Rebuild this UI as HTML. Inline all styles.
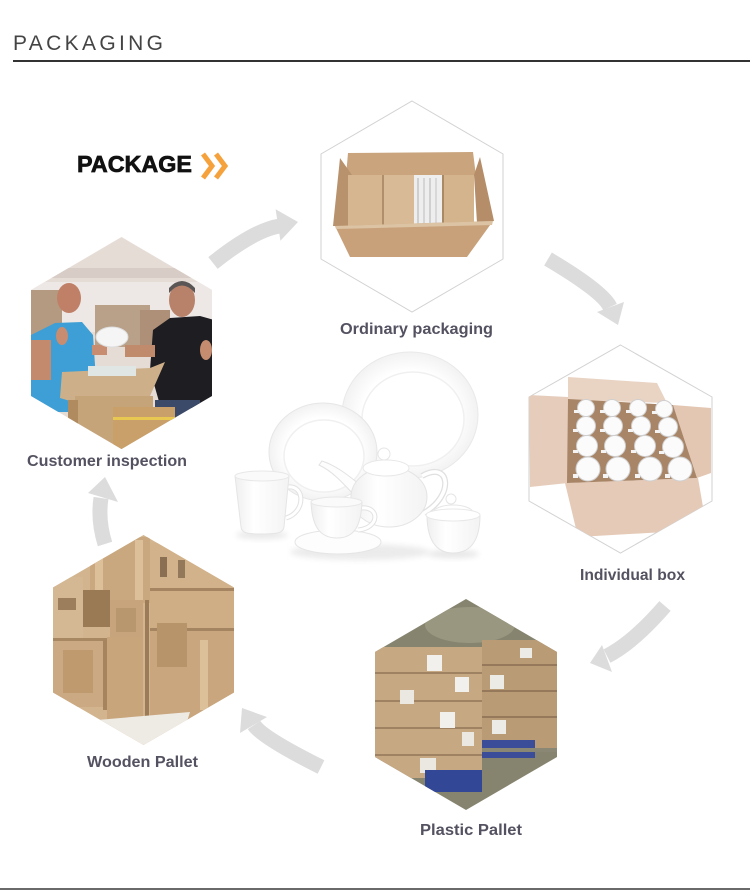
<!DOCTYPE html>
<html>
<head>
<meta charset="utf-8">
<style>
  html,body{margin:0;padding:0;background:#fff;}
  body{width:750px;height:890px;overflow:hidden;}
  svg{display:block;}
</style>
</head>
<body>
<svg width="750" height="890" viewBox="0 0 750 890" xmlns="http://www.w3.org/2000/svg">
  <defs>
    <clipPath id="hTop"><polygon points="412,101 503,154 503,259 412,312 321,259 321,154"/></clipPath>
    <clipPath id="hLeft"><polygon points="121.5,237 212,290 212,396 121.5,449 31,396 31,290"/></clipPath>
    <clipPath id="hRight"><polygon points="620.5,345 712,397 712,501 620.5,553 529,501 529,397"/></clipPath>
    <clipPath id="hPlastic"><polygon points="466,599 557,652 557,757 466,810 375,757 375,652"/></clipPath>
    <clipPath id="hWood"><polygon points="143.5,535 234,587.5 234,692.5 143.5,745 53,692.5 53,587.5"/></clipPath>
    <linearGradient id="shadeW" x1="0" y1="0" x2="1" y2="0">
      <stop offset="0" stop-color="#efefef"/>
      <stop offset="0.35" stop-color="#ffffff"/>
      <stop offset="1" stop-color="#f3f3f3"/>
    </linearGradient>
    <radialGradient id="plateG" cx="0.5" cy="0.5" r="0.5">
      <stop offset="0.7" stop-color="#ffffff"/>
      <stop offset="1" stop-color="#f2f2f2"/>
    </radialGradient>
    <filter id="blur3" x="-20%" y="-50%" width="140%" height="200%"><feGaussianBlur stdDeviation="3"/></filter>
  </defs>

  <!-- Header -->
  <text x="13" y="50" font-family="Liberation Sans, sans-serif" font-size="21" fill="#444" textLength="150" lengthAdjust="spacing">PACKAGING</text>
  <rect x="13" y="60" width="737" height="2" fill="#333"/>

  <!-- PACKAGE heading -->
  <text x="77" y="172" font-family="Liberation Sans, sans-serif" font-weight="bold" font-size="23" fill="#111" stroke="#111" stroke-width="0.7" textLength="115" lengthAdjust="spacingAndGlyphs">PACKAGE</text>
  <polyline points="203,154 212,166 203,178" fill="none" stroke="#f6a23c" stroke-width="5"/>
  <polyline points="216,154 225,166 216,178" fill="none" stroke="#f6a23c" stroke-width="5"/>

  <!-- Arrows -->
  <g fill="none" stroke="#dcdcdc" stroke-width="15">
    <path d="M213,263 Q254.5,229.8 280,226"/>
    <path d="M548,259 Q603,291.5 610,307"/>
    <path d="M665,606 Q633,642.8 607,656"/>
    <path d="M321,767 Q262.4,737.7 254,725"/>
    <path d="M105,544 Q97.6,520.5 101,498"/>
  </g>
  <g fill="#dcdcdc">
    <polygon points="298,222 280.4,240.8 275.6,209.2"/>
    <polygon points="618,325 597,312 624,302"/>
    <polygon points="590,663 602,645 612,672"/>
    <polygon points="242,708 267,717 240,733"/>
    <polygon points="105,477 88,493 118,502"/>
  </g>

  <!-- TOP HEX: Ordinary packaging -->
  <polygon points="412,101 503,154 503,259 412,312 321,259 321,154" fill="#fff" stroke="#d2d2d2" stroke-width="1"/>
  <g clip-path="url(#hTop)">
    <polygon points="348,153 473,152 476,176 346,176" fill="#c9a47d"/>
    <polygon points="340,158 352,175 350,226 333,226" fill="#b8916d"/>
    <polygon points="480,157 494,221 477,223 474,175" fill="#b58e69"/>
    <rect x="348" y="175" width="34" height="51" fill="#d5b690"/>
    <rect x="382" y="175" width="2" height="51" fill="#b0906c"/>
    <rect x="384" y="175" width="30" height="51" fill="#d8bb96"/>
    <rect x="414" y="175" width="28" height="51" fill="#eeeeee"/>
    <rect x="417" y="178" width="2" height="46" fill="#cfcfcf"/>
    <rect x="423" y="178" width="2" height="46" fill="#d5d5d5"/>
    <rect x="429" y="178" width="2" height="46" fill="#d0d0d0"/>
    <rect x="435" y="178" width="2" height="46" fill="#d8d8d8"/>
    <rect x="442" y="175" width="2" height="51" fill="#a98a66"/>
    <rect x="444" y="175" width="30" height="51" fill="#d4b48d"/>
    <polygon points="335,226 493,221 467,257 350,257" fill="#c8a17b"/>
    <polygon points="335,226 493,221 492,225 336,229" fill="#dcc3a3"/>
  </g>

  <!-- LEFT HEX: Customer inspection -->
  <g clip-path="url(#hLeft)">
    <rect x="30" y="236" width="184" height="215" fill="#e6dcd6"/>
    <rect x="30" y="268" width="184" height="10" fill="#d8cdc6"/>
    <rect x="30" y="282" width="184" height="50" fill="#ede8e6"/>
    <rect x="30" y="290" width="32" height="55" fill="#b49a80"/>
    <rect x="95" y="305" width="55" height="42" fill="#b9a088"/>
    <rect x="140" y="310" width="30" height="40" fill="#ae8f77"/>
    <!-- left man -->
    <polygon points="31,335 55,323 82,322 93,335 96,380 90,412 31,412" fill="#3d9fd6"/>
    <rect x="31" y="340" width="20" height="40" fill="#c48a6e"/>
    <ellipse cx="62" cy="336" rx="6" ry="9" fill="#c88c70"/>
    <ellipse cx="69" cy="298" rx="12" ry="15" fill="#c08068"/>
    <rect x="92" y="345" width="15" height="10" fill="#c88c70"/>
    <!-- plate -->
    <ellipse cx="112" cy="337" rx="16" ry="10" fill="#f5f5f5" stroke="#dcdcdc" stroke-width="1"/>
    <!-- right man -->
    <polygon points="153,330 170,318 200,316 214,320 214,410 160,405 150,370" fill="#1d1d22"/>
    <rect x="125" y="345" width="30" height="12" fill="#c08a6c"/>
    <ellipse cx="206" cy="350" rx="6" ry="10" fill="#c58c6f"/>
    <ellipse cx="182" cy="300" rx="13" ry="17" fill="#b8826a"/>
    <path d="M169,293 Q182,278 195,293 L195,288 Q182,274 169,288 Z" fill="#5a5656"/>
    <rect x="155" y="400" width="45" height="20" fill="#3a4a68"/>
    <!-- boxes -->
    <polygon points="62,372 150,368 165,362 150,396 80,404 60,398" fill="#cdb08a"/>
    <rect x="88" y="366" width="48" height="10" fill="#dfe6e4"/>
    <rect x="75" y="396" width="78" height="55" fill="#c6a47a"/>
    <rect x="68" y="400" width="10" height="50" fill="#b08b60"/>
    <rect x="113" y="407" width="62" height="44" fill="#c9a06a"/>
    <rect x="113" y="417" width="62" height="3" fill="#e8c850"/>
  </g>

  <!-- RIGHT HEX: Individual box -->
  <polygon points="620.5,345 712,397 712,501 620.5,553 529,501 529,397" fill="#fff" stroke="#d2d2d2" stroke-width="1"/>
  <g clip-path="url(#hRight)">
    <polygon points="529,395 568,397 568,483 530,487" fill="#e6cdbb"/>
    <polygon points="568,377 657,383 667,403 568,400" fill="#e9d3c2"/>
    <polygon points="673,405 711,408 711,473 697,478" fill="#e3c7b3"/>
    <polygon points="565,483 698,478 703,507 700,530 578,537" fill="#e5cab7"/>
    <polygon points="568,399 673,405 697,478 567,483" fill="#a88567"/>
    <g fill="#fbfbfb" stroke="#d0cfcf" stroke-width="1">
      <circle cx="586" cy="408" r="8.5"/><circle cx="612" cy="408" r="8.5"/><circle cx="638" cy="408" r="8.5"/><circle cx="664" cy="409" r="8.5"/>
      <circle cx="586" cy="426" r="9.5"/><circle cx="613" cy="426" r="9.5"/><circle cx="641" cy="426" r="9.5"/><circle cx="668" cy="427" r="9.5"/>
      <circle cx="587" cy="446" r="10.5"/><circle cx="615" cy="446" r="10.5"/><circle cx="645" cy="446" r="10.5"/><circle cx="673" cy="447" r="10.5"/>
      <circle cx="588" cy="469" r="12"/><circle cx="618" cy="469" r="12"/><circle cx="650" cy="469" r="12"/><circle cx="680" cy="469" r="12"/>
    </g>
    <g fill="#f4f4f4">
      <rect x="574" y="410" width="5" height="3"/><rect x="600" y="410" width="5" height="3"/><rect x="626" y="410" width="5" height="3"/><rect x="652" y="411" width="5" height="3"/>
      <rect x="573" y="429" width="5" height="3"/><rect x="600" y="429" width="5" height="3"/><rect x="628" y="429" width="5" height="3"/><rect x="655" y="430" width="5" height="3"/>
      <rect x="573" y="450" width="5" height="3"/><rect x="601" y="450" width="5" height="3"/><rect x="631" y="450" width="5" height="3"/><rect x="659" y="451" width="5" height="3"/>
      <rect x="573" y="474" width="5" height="4"/><rect x="603" y="474" width="5" height="4"/><rect x="635" y="474" width="5" height="4"/><rect x="665" y="474" width="5" height="4"/>
    </g>
  </g>

  <!-- PLASTIC PALLET HEX -->
  <g clip-path="url(#hPlastic)">
    <rect x="374" y="598" width="185" height="214" fill="#86846f"/>
    <ellipse cx="470" cy="625" rx="45" ry="18" fill="#99977f"/>
    <rect x="482" y="640" width="76" height="108" fill="#b99c76"/>
    <rect x="482" y="664" width="76" height="2" fill="#96795a"/>
    <rect x="482" y="690" width="76" height="2" fill="#96795a"/>
    <rect x="482" y="716" width="76" height="2" fill="#96795a"/>
    <rect x="490" y="675" width="14" height="14" fill="#ecebe6"/>
    <rect x="520" y="648" width="12" height="10" fill="#ecebe6"/>
    <rect x="492" y="720" width="14" height="14" fill="#ecebe6"/>
    <rect x="374" y="647" width="108" height="131" fill="#c6a882"/>
    <rect x="374" y="672" width="108" height="2" fill="#9e8262"/>
    <rect x="374" y="700" width="108" height="2" fill="#9e8262"/>
    <rect x="374" y="727" width="108" height="2" fill="#9e8262"/>
    <rect x="374" y="754" width="108" height="2" fill="#9e8262"/>
    <rect x="427" y="655" width="15" height="16" fill="#f2f0ec"/>
    <rect x="455" y="677" width="14" height="15" fill="#f2f0ec"/>
    <rect x="440" y="712" width="15" height="16" fill="#f2f0ec"/>
    <rect x="400" y="690" width="14" height="14" fill="#ebe8e2"/>
    <rect x="462" y="732" width="12" height="14" fill="#ebe8e2"/>
    <rect x="420" y="758" width="16" height="15" fill="#ebe8e2"/>
    <rect x="482" y="740" width="53" height="18" fill="#3b4c99"/>
    <rect x="425" y="770" width="57" height="22" fill="#324796"/>
    <rect x="482" y="748" width="76" height="4" fill="#8a8775"/>
  </g>

  <!-- WOODEN PALLET HEX -->
  <g clip-path="url(#hWood)">
    <rect x="52" y="534" width="184" height="213" fill="#d2b48e"/>
    <rect x="90" y="537" width="60" height="66" fill="#c9a77f"/>
    <rect x="95" y="540" width="8" height="62" fill="#dcc09a"/>
    <rect x="135" y="540" width="8" height="62" fill="#dcc09a"/>
    <rect x="83" y="590" width="27" height="37" fill="#9a7a55"/>
    <rect x="53" y="577" width="30" height="63" fill="#d4b893"/>
    <rect x="58" y="598" width="18" height="12" fill="#9c7e5c"/>
    <rect x="110" y="600" width="33" height="40" fill="#c7a47c"/>
    <rect x="116" y="608" width="20" height="24" fill="#b8966e"/>
    <rect x="150" y="543" width="84" height="50" fill="#d2b28a"/>
    <rect x="160" y="557" width="7" height="20" fill="#8a6f52"/>
    <rect x="178" y="560" width="7" height="18" fill="#93785a"/>
    <rect x="150" y="590" width="84" height="43" fill="#cfae85"/>
    <rect x="150" y="588" width="84" height="3" fill="#a48461"/>
    <rect x="150" y="630" width="84" height="90" fill="#c9a67d"/>
    <rect x="150" y="628" width="84" height="3" fill="#a48461"/>
    <rect x="157" y="623" width="30" height="44" fill="#b8946a"/>
    <rect x="200" y="640" width="8" height="70" fill="#dcc09a"/>
    <rect x="53" y="640" width="54" height="67" fill="#cba982"/>
    <rect x="53" y="638" width="54" height="3" fill="#a88862"/>
    <rect x="63" y="650" width="30" height="43" fill="#bf9a6f"/>
    <rect x="107" y="637" width="36" height="83" fill="#c8a57b"/>
    <rect x="145" y="600" width="4" height="120" fill="#9c7c58"/>
    <rect x="103" y="640" width="4" height="70" fill="#a5845e"/>
    <polygon points="97,720 190,712 180,745 110,745" fill="#eeeae4"/>
  </g>

  <!-- Center dinnerware -->
  <g>
    <ellipse cx="360" cy="552" rx="70" ry="8" fill="#ebebeb" filter="url(#blur3)"/>
    <ellipse cx="262" cy="535" rx="26" ry="4" fill="#e8e8e8" filter="url(#blur3)"/>
    <ellipse cx="453" cy="554" rx="26" ry="4" fill="#e6e6e6" filter="url(#blur3)"/>
    <!-- big plate -->
    <ellipse cx="410" cy="415" rx="68" ry="63" fill="url(#plateG)" stroke="#e9e9e9" stroke-width="1"/>
    <ellipse cx="413" cy="419" rx="51" ry="47" fill="#fff" stroke="#f0f0f0" stroke-width="1.5"/>
    <!-- medium plate -->
    <ellipse cx="323" cy="452" rx="54" ry="49" fill="url(#plateG)" stroke="#e6e6e6" stroke-width="1"/>
    <ellipse cx="324" cy="456" rx="40" ry="36" fill="#fff" stroke="#f0f0f0" stroke-width="1.5"/>
    <!-- mug -->
    <path d="M288,487 C305,485 306,512 286,518" fill="none" stroke="#e2e2e2" stroke-width="5"/>
    <path d="M288,487 C305,485 306,512 286,518" fill="none" stroke="#fff" stroke-width="3"/>
    <path d="M235,476 L289,476 L284,527 C283,533 278,534 262,534 C246,534 242,533 241,527 Z" fill="url(#shadeW)" stroke="#e5e5e5" stroke-width="1"/>
    <ellipse cx="262" cy="476" rx="27" ry="5" fill="#fafafa" stroke="#e8e8e8" stroke-width="1"/>
    <!-- teapot -->
    <path d="M422,476 C450,460 455,495 424,513" fill="none" stroke="#e0e0e0" stroke-width="6"/>
    <path d="M422,476 C450,460 455,495 424,513" fill="none" stroke="#fff" stroke-width="3.5"/>
    <path d="M356,497 C342,482 332,471 319,465 L322,461 C337,466 349,476 359,484 Z" fill="#fdfdfd" stroke="#e2e2e2" stroke-width="1"/>
    <ellipse cx="389" cy="497" rx="38" ry="30" fill="url(#shadeW)" stroke="#e4e4e4" stroke-width="1"/>
    <ellipse cx="386" cy="468" rx="23" ry="8" fill="#fff" stroke="#e8e8e8" stroke-width="1"/>
    <ellipse cx="384" cy="454" rx="6" ry="6" fill="#fff" stroke="#e6e6e6" stroke-width="1"/>
    <!-- saucer + cup -->
    <ellipse cx="338" cy="542" rx="43" ry="12" fill="#fdfdfd" stroke="#e5e5e5" stroke-width="1"/>
    <path d="M361,508 C380,506 380,528 358,530" fill="none" stroke="#e2e2e2" stroke-width="5"/>
    <path d="M361,508 C380,506 380,528 358,530" fill="none" stroke="#fff" stroke-width="3"/>
    <path d="M311,502 L362,502 C361,525 355,538 337,538 C319,538 312,525 311,502 Z" fill="url(#shadeW)" stroke="#e4e4e4" stroke-width="1"/>
    <ellipse cx="336.5" cy="502" rx="25.5" ry="5" fill="#fafafa" stroke="#e7e7e7" stroke-width="1"/>
    <!-- sugar bowl -->
    <path d="M427,515 C427,545 440,553 453,553 C467,553 480,545 480,515 Z" fill="url(#shadeW)" stroke="#e4e4e4" stroke-width="1"/>
    <path d="M432,514 C434,502 472,502 474,514 Z" fill="#fff" stroke="#e6e6e6" stroke-width="1"/>
    <ellipse cx="453" cy="515" rx="27" ry="6" fill="#fff" stroke="#e8e8e8" stroke-width="1"/>
    <circle cx="451" cy="499" r="5" fill="#fff" stroke="#e5e5e5" stroke-width="1"/>
  </g>

  <!-- Labels -->
  <g font-family="Liberation Sans, sans-serif" font-weight="bold" font-size="16" fill="#545260" text-anchor="middle">
    <text x="416.5" y="334" textLength="153" lengthAdjust="spacingAndGlyphs">Ordinary packaging</text>
    <text x="107" y="466" textLength="160" lengthAdjust="spacingAndGlyphs">Customer inspection</text>
    <text x="632.5" y="580" textLength="105" lengthAdjust="spacingAndGlyphs">Individual box</text>
    <text x="471" y="835" textLength="102" lengthAdjust="spacingAndGlyphs">Plastic Pallet</text>
    <text x="142.5" y="767" textLength="111" lengthAdjust="spacingAndGlyphs">Wooden Pallet</text>
  </g>

  <!-- bottom rule -->
  <rect x="0" y="888" width="750" height="2" fill="#6a6a6a"/>
</svg>
</body>
</html>
